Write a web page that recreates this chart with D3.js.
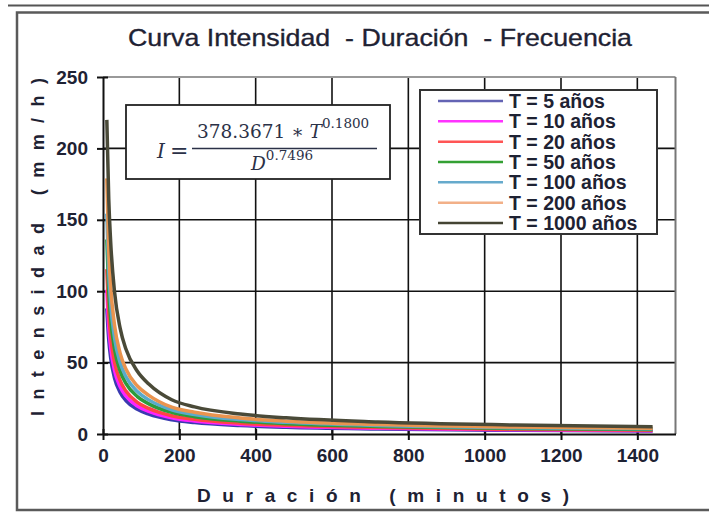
<!DOCTYPE html>
<html>
<head>
<meta charset="utf-8">
<script src="https://cdn.jsdelivr.net/npm/d3@7"></script>
<style>
  html, body { margin: 0; padding: 0; background: #fff; }
  svg { display: block; }
  text.pre { white-space: pre; }
</style>
</head>
<body>
<svg id="chart" width="709" height="513"></svg>
<script>
// ---------- DATA ----------
const title = "Curva Intensidad  - Duración  - Frecuencia";
const xTitle = "D u r a c i ó n   ( m i n u t o s )";
const yTitle = "I n t e n s i d a d   ( m m / h )";
const durations = [10, 15, 20, 30, 45, 60, 90, 120, 180, 240, 360, 480, 720, 1080, 1440];
const seriesNames = ["T = 5 años", "T = 10 años", "T = 20 años", "T = 50 años", "T = 100 años", "T = 200 años", "T = 1000 años"];
const t5    = [88.0, 66.3, 53.5, 39.4, 29.1, 23.4, 17.3, 13.9, 10.0, 8.0, 5.9, 4.7, 3.5, 2.6, 2.1];
const t10   = [101.0, 75.1, 60.6, 44.7, 33.0, 26.6, 19.6, 15.8, 11.4, 9.1, 6.7, 5.4, 4.0, 2.9, 2.3];
const t20   = [115.5, 85.1, 68.6, 50.6, 37.4, 30.1, 22.2, 17.9, 12.8, 10.3, 7.6, 6.1, 4.5, 3.3, 2.7];
const t50   = [136.2, 100.4, 80.9, 59.7, 44.0, 35.5, 26.2, 21.1, 15.1, 12.1, 9.0, 7.2, 5.3, 3.9, 3.2];
const t100  = [154.3, 113.7, 91.7, 67.6, 49.9, 40.2, 29.7, 23.9, 17.0, 13.7, 10.1, 8.2, 6.0, 4.4, 3.6];
const t200  = [179.0, 128.8, 103.8, 76.6, 56.5, 45.5, 33.6, 27.1, 18.8, 15.2, 11.2, 9.0, 6.7, 4.9, 4.0];
const t1000 = [220.0, 165.0, 135.0, 100.0, 74.0, 59.5, 44.0, 35.0, 24.0, 19.0, 14.0, 11.3, 8.4, 6.3, 5.1];
const seriesValues = [t5, t10, t20, t50, t100, t200, t1000];
const xTicks = [0, 200, 400, 600, 800, 1000, 1200, 1400];
const yTicks = [0, 50, 100, 150, 200, 250];
const colors = ["#3a3ab0", "#ff22ff", "#ff4444", "#2e9a3a", "#5aaacc", "#e9944f", "#4a4a38"];
const legendColors = ["#6464b4", "#ff33ff", "#ff5555", "#33a033", "#66aacc", "#f2b088", "#444433"];

// ---------- LAYOUT ----------
const svg = d3.select("#chart");
const x = d3.scaleLinear().domain([0, 1500]).range([103, 675.5]);
const y = d3.scaleLinear().domain([0, 250]).range([434, 77]);
const textColor = "#1e2233";
const sans = "'Liberation Sans', Arial, sans-serif";

// outer frame
svg.append("line").attr("x1", 8).attr("x2", 709).attr("y1", 5.5).attr("y2", 5.5)
  .attr("stroke", "#555").attr("stroke-width", 2);
svg.append("rect").attr("x", 17).attr("y", 12.5).attr("width", 720).attr("height", 497.5)
  .attr("fill", "none").attr("stroke", "#5a5a5a").attr("stroke-width", 2.5);

// title
svg.append("text").attr("class", "pre").attr("x", 380).attr("y", 46).attr("text-anchor", "middle")
  .attr("font-family", sans).attr("font-size", 24).attr("fill", textColor)
  .attr("stroke", textColor).attr("stroke-width", 0.35)
  .attr("textLength", 504).attr("lengthAdjust", "spacingAndGlyphs").text(title);

// gridlines
const grid = svg.append("g");
grid.selectAll("line.v").data(xTicks.filter(d => d > 0)).join("line")
  .attr("x1", d => x(d)).attr("x2", d => x(d)).attr("y1", y(250)).attr("y2", y(0))
  .attr("stroke", "#111").attr("stroke-width", 1.6);
grid.selectAll("line.h").data(yTicks.filter(d => d > 0 && d < 250)).join("line")
  .attr("x1", x(0)).attr("x2", x(1500)).attr("y1", d => y(d)).attr("y2", d => y(d))
  .attr("stroke", "#111").attr("stroke-width", 1.6);
// plot border top/right
svg.append("line").attr("x1", x(0)).attr("x2", x(1500)).attr("y1", y(250)).attr("y2", y(250))
  .attr("stroke", "#999").attr("stroke-width", 2);
svg.append("line").attr("x1", x(1500)).attr("x2", x(1500)).attr("y1", y(250)).attr("y2", y(0))
  .attr("stroke", "#777").attr("stroke-width", 2);

// axes
const xAxis = d3.axisBottom(x).tickValues(xTicks).tickFormat(d3.format("d"))
  .tickSize(6).tickPadding(9).tickSizeOuter(0);
const gx = svg.append("g").attr("transform", `translate(0,${y(0)})`).call(xAxis);
gx.select(".domain").attr("stroke", "#111").attr("stroke-width", 2);
gx.selectAll(".tick line").attr("stroke", "#111").attr("stroke-width", 2).attr("y1", -5);
gx.selectAll(".tick text").attr("font-family", sans)
  .attr("font-weight", "bold").attr("font-size", 19).attr("fill", textColor);

const yAxis = d3.axisLeft(y).tickValues(yTicks).tickFormat(d3.format("d"))
  .tickSize(6).tickPadding(9).tickSizeOuter(0);
const gy = svg.append("g").attr("transform", `translate(${x(0)},0)`).call(yAxis);
gy.select(".domain").attr("stroke", "#111").attr("stroke-width", 2);
gy.selectAll(".tick line").attr("stroke", "#111").attr("stroke-width", 2).attr("x1", 5);
gy.selectAll(".tick text").attr("font-family", sans)
  .attr("font-weight", "bold").attr("font-size", 19).attr("fill", textColor);

// curves
const line = d3.line().x((d, i) => x(durations[i])).y(d => y(d)).curve(d3.curveMonotoneX);
svg.append("g").selectAll("path").data(seriesValues).join("path")
  .attr("d", d => line(d)).attr("fill", "none")
  .attr("stroke", (d, i) => colors[i]).attr("stroke-width", 3.5);

// axis titles
svg.append("text").attr("class", "pre").attr("x", 383).attr("y", 502).attr("text-anchor", "middle")
  .attr("font-family", sans).attr("font-weight", "bold")
  .attr("font-size", 19).attr("fill", textColor)
  .attr("textLength", 372).attr("lengthAdjust", "spacing").text(xTitle);
svg.append("text").attr("class", "pre").attr("transform", "translate(44,247) rotate(-90)").attr("text-anchor", "middle")
  .attr("font-family", sans).attr("font-weight", "bold")
  .attr("font-size", 18).attr("fill", textColor)
  .attr("textLength", 338).attr("lengthAdjust", "spacing").text(yTitle);

// formula box
const fb = svg.append("g");
fb.append("rect").attr("x", 126).attr("y", 105).attr("width", 264).attr("height", 74)
  .attr("fill", "#fff").attr("stroke", "#222").attr("stroke-width", 1.8);
const fColor = "#2b3147";
const serif = "'DejaVu Serif', 'Liberation Serif', serif";
fb.append("text").attr("x", 157).attr("y", 158).attr("font-family", serif)
  .attr("font-style", "italic").attr("font-size", 20).attr("fill", fColor).text("I");
fb.append("text").attr("x", 170).attr("y", 158).attr("font-family", serif)
  .attr("font-size", 22).attr("fill", fColor).text("=");
const num = fb.append("text").attr("class", "pre").attr("x", 197).attr("y", 138).attr("font-family", serif)
  .attr("font-size", 18.5).attr("fill", fColor);
num.append("tspan").text("378.3671 ∗ ");
num.append("tspan").attr("font-style", "italic").text("T");
num.append("tspan").attr("font-size", 13.5).attr("dy", -10).text("0.1800");
fb.append("line").attr("x1", 192).attr("x2", 377).attr("y1", 148.5).attr("y2", 148.5)
  .attr("stroke", fColor).attr("stroke-width", 1.3);
const den = fb.append("text").attr("x", 251).attr("y", 170).attr("font-family", serif)
  .attr("font-size", 18.5).attr("fill", fColor);
den.append("tspan").attr("font-style", "italic").text("D");
den.append("tspan").attr("font-size", 13.5).attr("dy", -10).text("0.7496");

// legend
const lg = svg.append("g");
lg.append("rect").attr("x", 420).attr("y", 90).attr("width", 237).attr("height", 144)
  .attr("fill", "#fff").attr("stroke", "#333").attr("stroke-width", 2);
const rowY = d3.scalePoint().domain(seriesNames).range([101, 223]);
const rows = lg.selectAll("g.row").data(seriesNames).join("g")
  .attr("transform", d => `translate(0,${rowY(d)})`);
rows.append("line").attr("x1", 438).attr("x2", 503).attr("y1", 0).attr("y2", 0)
  .attr("stroke", (d, i) => legendColors[i]).attr("stroke-width", 2.5);
rows.append("text").attr("x", 509).attr("y", 0).attr("dy", "0.36em")
  .attr("font-family", sans).attr("font-weight", "bold")
  .attr("font-size", 19.5).attr("fill", textColor).text(d => d);
</script>
</body>
</html>
